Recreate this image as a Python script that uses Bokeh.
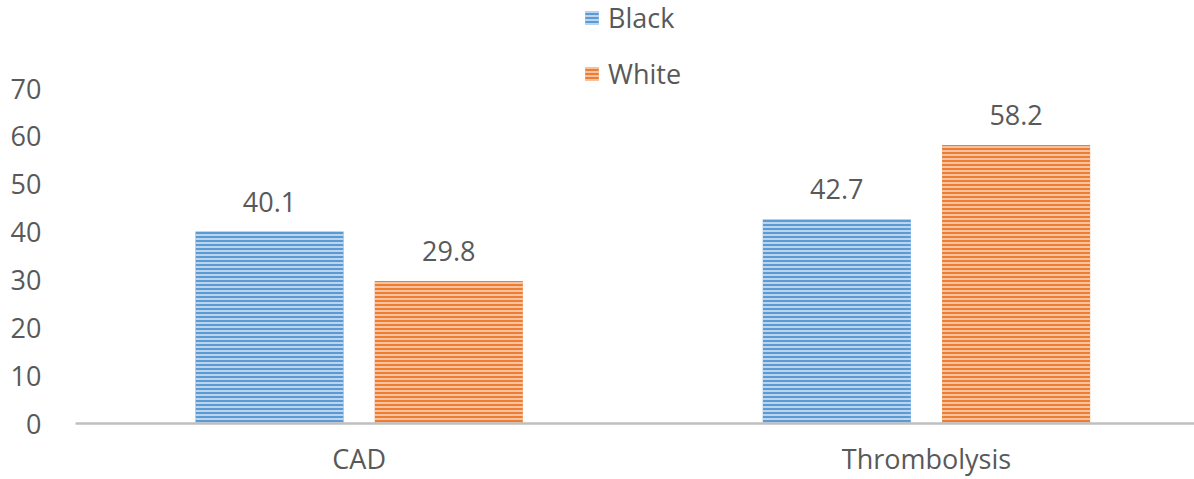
from bokeh.plotting import figure
from bokeh.models import Range1d, FixedTicker, ColumnDataSource, Legend, LegendItem, LabelSet
from bokeh.core.properties import value
from bokeh.embed import file_html
from bokeh.resources import INLINE

categories = ["CAD", "Thrombolysis"]
series = ["Black", "White"]
black = [40.1, 42.7]
white = [29.8, 58.2]
y_ticks = [0, 10, 20, 30, 40, 50, 60, 70]

FONT = "Open Sans"
FS = "27px"
TXT = "#595959"

# frame spans the full height so the legend above the 70 tick stays inside it
Y_TOP = 70 * 423 / 335

p = figure(width=1194, height=479, output_backend="svg", toolbar_location=None,
           x_range=Range1d(-0.5, 1.4725), y_range=Range1d(0, Y_TOP),
           min_border_left=75, min_border_right=0, min_border_top=0, min_border_bottom=56)
p.outline_line_color = None
p.grid.visible = False
p.background_fill_color = "white"
p.border_fill_color = "white"

xs = list(range(len(categories)))
off = 0.158
w = 0.261
colors = {"Black": ("#5B9BD5", "#DCE9F6"), "White": ("#ED7D31", "#FADBC8")}
renderers = []
for s, vals, dx in [("Black", black, -off), ("White", white, off)]:
    src = ColumnDataSource(dict(x=[x + dx for x in xs], top=vals, lab=[f"{v:.1f}" for v in vals]))
    r = p.vbar(x="x", top="top", width=w, source=src, fill_color=colors[s][0], line_color=None,
               hatch_pattern="horizontal_line", hatch_color=colors[s][1], hatch_scale=4, hatch_weight=1.5)
    renderers.append((s, r))
    p.add_layout(LabelSet(x="x", y="top", text="lab", source=src, text_align="center",
                          text_baseline="middle", y_offset=30, text_font=value(FONT),
                          text_font_size=value(FS), text_color=TXT))

p.xaxis.ticker = FixedTicker(ticks=xs)
p.xaxis.major_label_overrides = {i: c for i, c in enumerate(categories)}
p.xaxis.axis_line_color = "#BFBFBF"
p.xaxis.axis_line_width = 2.5
p.xaxis.major_tick_line_color = None
p.xaxis.minor_tick_line_color = None
p.xaxis.major_label_text_font = FONT
p.xaxis.major_label_text_font_size = FS
p.xaxis.major_label_text_color = TXT
p.xaxis.major_label_standoff = 10

p.yaxis.ticker = FixedTicker(ticks=y_ticks)
p.yaxis.axis_line_color = None
p.yaxis.major_tick_line_color = None
p.yaxis.minor_tick_line_color = None
p.yaxis.major_label_text_font = FONT
p.yaxis.major_label_text_font_size = FS
p.yaxis.major_label_text_color = TXT
p.yaxis.major_label_standoff = 28

legend = Legend(items=[LegendItem(label=s, renderers=[r]) for s, r in renderers],
                location=(508, 331), orientation="vertical",
                label_text_font=FONT, label_text_font_size=FS, label_text_color=TXT,
                glyph_width=17, glyph_height=17, label_height=30, spacing=19, label_standoff=8,
                border_line_color=None, background_fill_alpha=0, padding=0, margin=0)
p.add_layout(legend, "center")

open("out.html", "w").write(file_html(p, INLINE))
